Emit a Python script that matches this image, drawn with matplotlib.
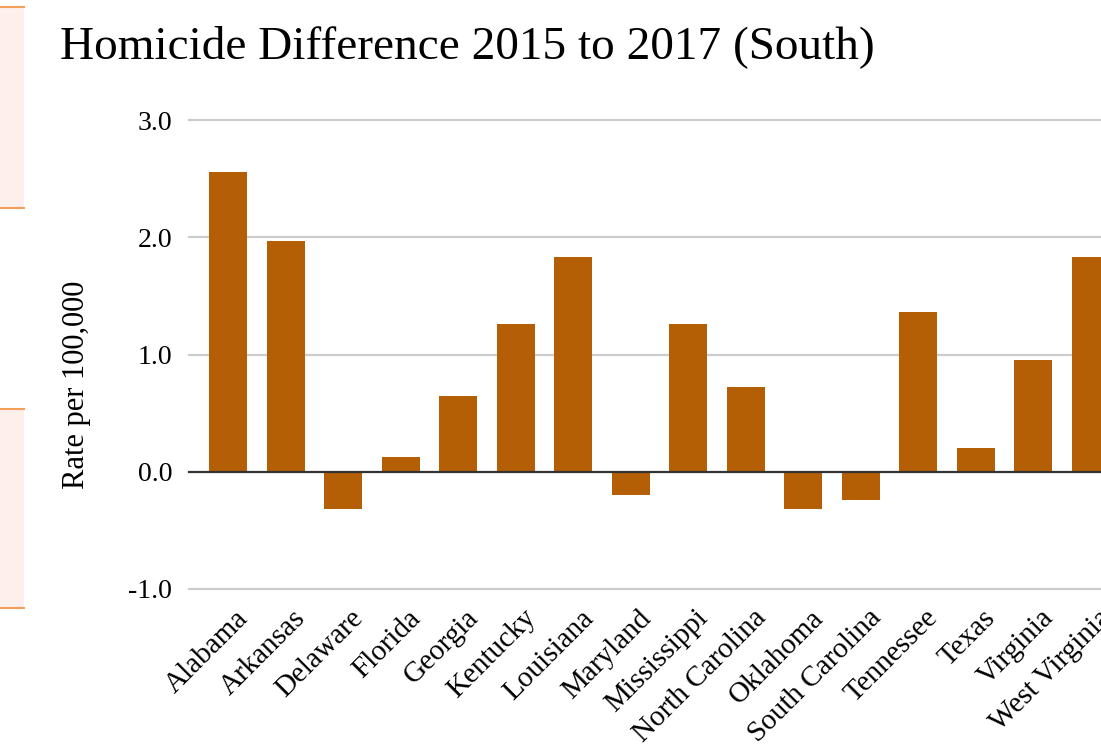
import matplotlib.pyplot as plt
from matplotlib.patches import Rectangle
from matplotlib.transforms import offset_copy

states = ['Alabama', 'Arkansas', 'Delaware', 'Florida', 'Georgia', 'Kentucky',
          'Louisiana', 'Maryland', 'Mississippi', 'North Carolina', 'Oklahoma',
          'South Carolina', 'Tennessee', 'Texas', 'Virginia', 'West Virginia']
diff = [2.56, 1.97, -0.32, 0.13, 0.65, 1.26, 1.83, -0.20, 1.26, 0.72, -0.32,
        -0.24, 1.36, 0.20, 0.95, 1.83]
yticks = [-1.0, 0.0, 1.0, 2.0, 3.0]

plt.rcParams['font.family'] = ['Liberation Serif', 'DejaVu Serif']

W, H = 1101, 753
fig = plt.figure(figsize=(W / 100, H / 100), dpi=100)

# bits of the page to the left (pink panels with orange edges)
for y0, y1 in [(7, 208), (409, 608)]:
    fig.patches.append(Rectangle((0, 1 - y1 / H), 24 / W, (y1 - y0) / H,
                                 transform=fig.transFigure, facecolor='#fdf0ec',
                                 edgecolor='none', zorder=0))
    for yy in (y0, y1):
        fig.add_artist(plt.Line2D([0, 24 / W], [1 - yy / H, 1 - yy / H],
                                  transform=fig.transFigure, color='#f5a05a', lw=1.5))

# axes box: left at 189px, y 3.0 at 120px, -1.0 at 589px
ax = fig.add_axes([189 / W, 1 - 589 / H, (W - 189) / W, (589 - 120) / H])
ax.set_xlim(-0.68, 15.18)
ax.set_ylim(-1.0, 3.0)

x = list(range(len(states)))
ax.bar(x, diff, width=0.66, color='#b45f06', zorder=3)

for v in yticks:
    ax.axhline(v, color='#333333' if v == 0 else '#cccccc', lw=1.6,
               zorder=4 if v == 0 else 1, clip_on=False)

for s in ax.spines.values():
    s.set_visible(False)

ax.set_yticks(yticks)
ax.set_yticklabels([f'{v:.1f}' for v in yticks], fontsize=20)
ax.tick_params(axis='y', length=0, pad=12)
ax.set_xticks(x)
ax.set_xticklabels([])
ax.tick_params(axis='x', length=0)

trans = offset_copy(ax.get_xaxis_transform(), fig=fig, x=7, y=-16, units='dots')
for xi, name in zip(x, states):
    ax.text(xi, 0, name, transform=trans, rotation=45, ha='right', va='top',
            rotation_mode='anchor', fontsize=21, clip_on=False)

ax.set_ylabel('Rate per 100,000', fontsize=22)
ax.yaxis.set_label_coords(-0.108, 0.435)

fig.text(60 / W, 1 - 47 / H, 'Homicide Difference 2015 to 2017 (South)',
         fontsize=34, va='center', ha='left')

fig.savefig('out.png', dpi=100)
